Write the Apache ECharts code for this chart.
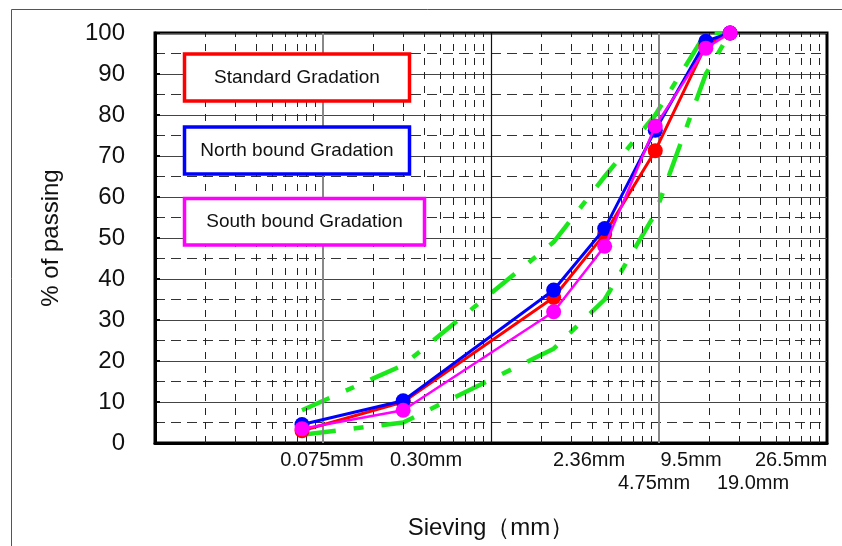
<!DOCTYPE html>
<html>
<head>
<meta charset="utf-8">
<script src="https://cdn.jsdelivr.net/npm/echarts@6/dist/echarts.min.js"></script>
<style>
  html, body { margin: 0; padding: 0; background: #fff; }
  #main { width: 842px; height: 546px; }
</style>
</head>
<body>
<div id="main"></div>
<script type="text/javascript">
// sieve sizes (mm) and % passing
var sieveSizes = [0.075, 0.3, 2.36, 4.75, 9.5, 19, 26.5];
var sieveLabels = ['0.075mm', '0.30mm', '2.36mm', '4.75mm', '9.5mm', '19.0mm', '26.5mm'];
var standardGrad = [3, 10, 35.5, 51, 71.3, 97, 100];
var northGrad = [4.5, 10.3, 37.3, 52.3, 76.3, 98, 100];
var southGrad = [3.5, 8, 32, 48, 77.3, 96.3, 100];
var upperLimit = [8, 19, 49, 65, 80, 100, 100];
var lowerLimit = [2, 5, 23, 35, 56, 90, 100];
var legendNames = ['Standard Gradation', 'North bound Gradation', 'South bound Gradation'];

// label placement (pixels) for the sieve names under the axis
var labelX = [322, 426, 589, 654, 691, 753, 791];
var labelY = [460, 460, 460, 483, 460, 483, 460];

function pairs(ys) {
    var out = [];
    for (var i = 0; i < sieveSizes.length; i++) out.push([sieveSizes[i], ys[i]]);
    return out;
}

// log grid lines: decades solid, 2..9 dashed
var vLines = [];
for (var p = -2; p <= 1; p++) {
    var base = Math.pow(10, p);
    if (p > -2) {
        vLines.push({ xAxis: base, lineStyle: { color: p == 0 ? '#111' : '#888', width: p == 0 ? 1.2 : 2, type: 'solid' } });
    }
    for (var k = 2; k <= 9; k++) {
        vLines.push({ xAxis: +(k * base).toPrecision(3), lineStyle: { color: '#222', width: 1, type: [7, 7] } });
    }
}

var myChart = echarts.init(document.getElementById('main'));

var gridSeries = {
    type: 'line', data: [], silent: true, z: 1,
    markLine: { silent: true, symbol: ['none', 'none'], label: { show: false }, animation: false, data: vLines }
};

function limitSeries(name, ys, dash) {
    return {
        name: name, type: 'line', data: pairs(ys), z: 3,
        showSymbol: false, symbol: 'none',
        lineStyle: { color: '#1be81b', width: 4.5, type: dash, cap: 'butt' }
    };
}

function gradSeries(name, ys, color, w, z) {
    return {
        name: name, type: 'line', data: pairs(ys), z: z,
        symbol: 'circle', symbolSize: 15,
        itemStyle: { color: color },
        lineStyle: { color: color, width: w }
    };
}

var textFont = 'Liberation Sans, Arial, sans-serif';
var graphics = [
    { type: 'rect', shape: { x: 11.5, y: 9.5, width: 900, height: 600 }, style: { fill: null, stroke: '#555', lineWidth: 1 }, silent: true, z: 0 }
];
var boxes = [
    { y: 54, w: 225, h: 47, color: '#ff0000' },
    { y: 127, w: 225, h: 47, color: '#0000ff' },
    { y: 198.5, w: 240, h: 46.5, color: '#ff00ff' }
];
for (var b = 0; b < boxes.length; b++) {
    var bx = boxes[b];
    graphics.push({
        type: 'rect', z: 100, shape: { x: 184.5, y: bx.y, width: bx.w, height: bx.h },
        style: { fill: '#ffffff', stroke: bx.color, lineWidth: 3.5 }
    });
    graphics.push({
        type: 'text', z: 101, x: 184.5 + bx.w / 2, y: bx.y + bx.h / 2,
        style: { text: legendNames[b], fill: '#111', font: '19px ' + textFont, textAlign: 'center', textVerticalAlign: 'middle' }
    });
}
for (var i = 0; i < sieveLabels.length; i++) {
    graphics.push({
        type: 'text', x: labelX[i], y: labelY[i], z: 100,
        style: { text: sieveLabels[i], fill: '#111', font: '20px ' + textFont, textAlign: 'center', textVerticalAlign: 'middle' }
    });
}

var option = {
    animation: false,
    backgroundColor: '#fff',
    textStyle: { fontFamily: textFont },
    grid: { left: 155, right: 15, top: 33, bottom: 103, show: true, borderColor: '#000', borderWidth: 3, backgroundColor: 'transparent', outerBoundsMode: 'none' },
    xAxis: {
        type: 'log', logBase: 10, min: 0.01, max: 100,
        name: 'Sieving（mm）', nameLocation: 'middle', nameGap: 73,
        nameTextStyle: { fontSize: 24, color: '#111', fontFamily: textFont },
        axisLine: { show: true, lineStyle: { color: '#000', width: 3 } },
        axisTick: { show: false },
        axisLabel: { show: false },
        splitLine: { show: false },
        minorTick: { show: false },
        minorSplitLine: { show: false }
    },
    yAxis: {
        type: 'value', min: 0, max: 100, interval: 10,
        name: '% of passing', nameLocation: 'middle', nameGap: 92,
        nameTextStyle: { fontSize: 24, color: '#111', fontFamily: textFont },
        axisLine: { show: true, lineStyle: { color: '#000', width: 3 } },
        axisTick: { show: true, inside: true, length: 5, lineStyle: { color: '#000', width: 2 } },
        minorTick: { show: true, splitNumber: 2, length: 3, lineStyle: { color: '#000' } },
        axisLabel: { fontSize: 24, color: '#111', margin: 30, fontFamily: textFont },
        splitLine: { show: true, lineStyle: { color: '#444', width: 1.2 } },
        minorSplitLine: { show: true, lineStyle: { color: '#333', width: 1, type: [10, 6] } }
    },
    graphic: graphics,
    series: [
        gridSeries,
        limitSeries('Upper limit', upperLimit, [30, 18, 9, 18]),
        limitSeries('Lower limit', lowerLimit, [34, 18, 10, 18]),
        gradSeries(legendNames[0], standardGrad, '#ff0000', 3, 5),
        gradSeries(legendNames[1], northGrad, '#0000ff', 3, 6),
        gradSeries(legendNames[2], southGrad, '#ff00ff', 2.5, 7)
    ]
};
myChart.setOption(option);
</script>
</body>
</html>
